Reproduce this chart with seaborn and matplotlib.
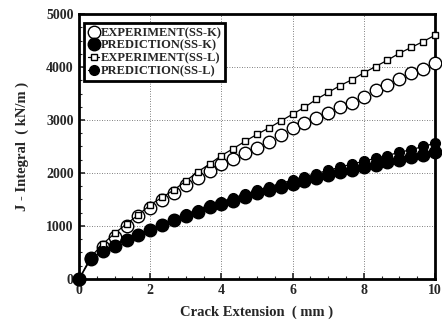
import matplotlib
matplotlib.use("Agg")
import matplotlib.pyplot as plt
import seaborn as sns
import pandas as pd
import numpy as np
from matplotlib.ticker import MultipleLocator

crack_ext = [i / 3 for i in range(31)]
exp_ssk = [0, 400, 610, 800, 990, 1180, 1330, 1490, 1620, 1770, 1900, 2030, 2170, 2270, 2370,
           2470, 2580, 2710, 2840, 2950, 3030, 3130, 3240, 3330, 3440, 3570, 3660, 3770, 3880, 3960, 4080]
pred_ssk = [0, 370, 520, 620, 730, 830, 930, 1020, 1110, 1190, 1270, 1350, 1420, 1480, 1550,
            1620, 1680, 1740, 1800, 1850, 1910, 1960, 2010, 2060, 2110, 2160, 2200, 2250, 2300, 2340, 2390]
exp_ssl = [0, 420, 660, 860, 1040, 1210, 1400, 1540, 1680, 1850, 2020, 2170, 2330, 2460, 2600,
           2730, 2850, 2980, 3110, 3240, 3390, 3520, 3650, 3760, 3890, 4010, 4130, 4260, 4370, 4480, 4600]
pred_ssl = [0, 380, 530, 640, 750, 850, 950, 1040, 1140, 1220, 1310, 1390, 1460, 1530, 1600,
            1670, 1740, 1800, 1870, 1930, 1990, 2050, 2110, 2170, 2220, 2280, 2330, 2390, 2440, 2500, 2560]
labels = ["EXPERIMENT(SS-K)", "PREDICTION(SS-K)", "EXPERIMENT(SS-L)", "PREDICTION(SS-L)"]
x_ticks = [0, 2, 4, 6, 8, 10]
y_ticks = [0, 1000, 2000, 3000, 4000, 5000]

sns.set_style("ticks")
plt.rcParams['font.family'] = ['Liberation Serif', 'DejaVu Serif']
plt.rcParams['font.weight'] = 'bold'

fig = plt.figure(figsize=(4.42, 3.27), dpi=100)
ax = fig.add_axes([0.179, 0.147, 0.805, 0.81])

styles = [
    dict(marker='o', markersize=9, markerfacecolor='white', markeredgecolor='black', markeredgewidth=1.0, linestyle=''),
    dict(marker='o', markersize=9, markerfacecolor='black', markeredgecolor='black', markeredgewidth=1.0, linestyle=''),
    dict(marker='s', markersize=4.5, markerfacecolor='white', markeredgecolor='black', markeredgewidth=1.0, linewidth=0.9),
    dict(marker='o', markersize=7, markerfacecolor='black', markeredgecolor='black', markeredgewidth=1.0, linewidth=0.9),
]
series = [exp_ssk, pred_ssk, exp_ssl, pred_ssl]
for vals, lab, st in zip(series, labels, styles):
    df = pd.DataFrame({"x": crack_ext, "y": vals})
    sns.lineplot(data=df, x="x", y="y", ax=ax, color='black', label=lab, clip_on=False, zorder=3, **st)

ax.set_xlim(0, 10)
ax.set_ylim(0, 5000)
ax.set_xticks(x_ticks)
ax.set_yticks(y_ticks)
ax.xaxis.set_minor_locator(MultipleLocator(0.5))
ax.yaxis.set_minor_locator(MultipleLocator(250))
ax.tick_params(which='major', direction='in', length=4, width=1.2, labelsize=10, pad=4)
ax.tick_params(which='minor', direction='in', length=2, width=0.8)
for t in ax.get_xticklabels() + ax.get_yticklabels():
    t.set_fontweight('bold')
ax.grid(True, which='major', linestyle=(0, (1, 2)), linewidth=0.6, color='#555555')
for s in ax.spines.values():
    s.set_linewidth(2.0)
    s.set_color('black')

ax.set_xlabel("Crack Extension  ( mm )", fontsize=10.5, fontweight='bold', labelpad=6)
ax.set_ylabel("J - Integral  ( kN/m )", fontsize=10.5, fontweight='bold', labelpad=12)

leg = ax.legend(loc='upper left', bbox_to_anchor=(0.015, 0.965), frameon=True, fancybox=False,
                handlelength=0.9, handletextpad=0.1, labelspacing=0.05, borderpad=0.3,
                borderaxespad=0.0, prop={'size': 9, 'weight': 'bold'})
leg.get_frame().set_edgecolor('black')
leg.get_frame().set_linewidth(2.0)
leg.get_frame().set_alpha(1)

fig.savefig("out.png", dpi=100)
